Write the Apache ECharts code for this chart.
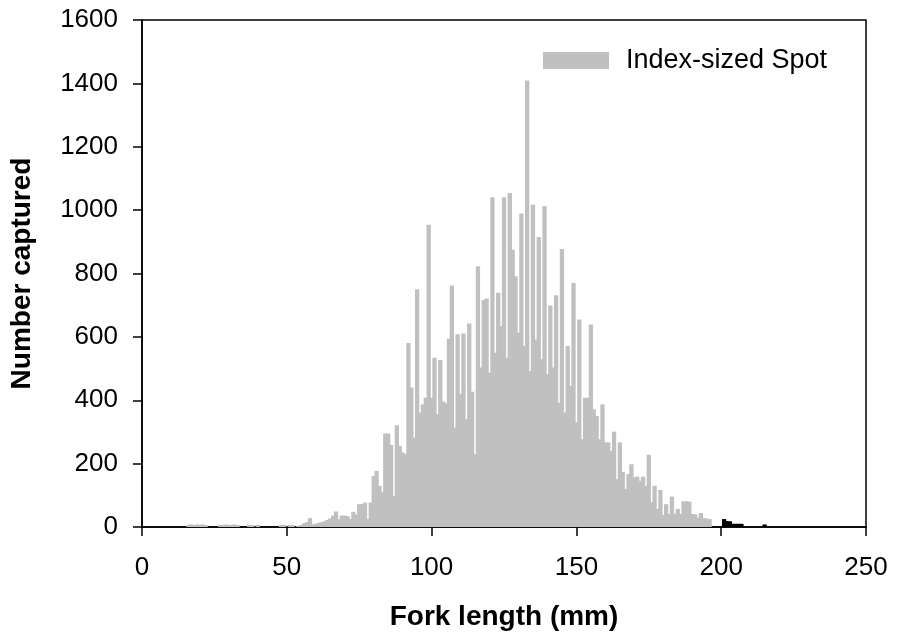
<!DOCTYPE html>
<html>
<head>
<meta charset="utf-8">
<script src="https://cdn.jsdelivr.net/npm/echarts@6/dist/echarts.min.js"></script>
<style>
  html, body { margin: 0; padding: 0; background: #fff; }
  #main { width: 898px; height: 636px; }
</style>
</head>
<body>
<div id="main"></div>
<script>
// fork length bins are 1 mm wide, grey series starts at 16 mm
var firstLength = 16;
var indexSized = [
  7, 8, 6, 8, 7, 8, 6, 0, 0, 0,            // 16-25
  0, 7, 6, 8, 6, 7, 8, 6, 0, 0,            // 26-35
  0, 7, 6, 0, 7, 0, 0, 0, 0, 0,            // 36-45
  0, 0, 6, 7, 0, 7, 6, 0, 3, 6,            // 46-55
  12, 15, 28, 8, 10, 13, 15, 18, 22, 27,   // 56-65
  36, 49, 25, 36, 36, 34, 25, 48, 39, 72,  // 66-75
  72, 77, 25, 77, 161, 177, 130, 110, 295, 295,   // 76-85
  259, 98, 321, 256, 235, 230, 581, 440, 282, 750, // 86-95
  361, 387, 408, 954, 408, 534, 356, 527, 396, 390, // 96-105
  594, 762, 314, 608, 419, 611, 340, 642, 427, 230, // 106-115
  823, 503, 716, 721, 487, 1041, 550, 739, 634, 1041, // 116-125
  534, 1054, 875, 791, 613, 989, 571, 1409, 492, 1017, // 126-135
  592, 915, 529, 1012, 482, 699, 503, 731, 392, 877,  // 136-145
  361, 571, 445, 770, 330, 655, 277, 408, 408, 639,   // 146-155
  371, 350, 277, 387, 267, 267, 240, 301, 151, 267,   // 156-165
  174, 120, 167, 198, 156, 159, 146, 159, 130, 228,   // 166-175
  78, 130, 57, 117, 38, 72, 41, 96, 41, 57,           // 176-185
  41, 81, 81, 80, 41, 40, 30, 44, 28, 27,             // 186-195
  25                                                  // 196
];
var otherLengths = [201, 202, 203, 204, 205, 206, 207, 215];
var otherCounts = [25, 19, 18, 10, 10, 10, 10, 8];

var greyData = indexSized.map(function (v, i) { return [firstLength + i, v]; });
var blackData = otherLengths.map(function (l, i) { return [l, otherCounts[i]]; });

var font = 'Liberation Sans, Arial, sans-serif';
var myChart = echarts.init(document.getElementById('main'));
myChart.setOption({
  animation: false,
  backgroundColor: '#fff',
  grid: {
    left: 142, right: 32, top: 20, bottom: 108,
    show: true, borderColor: '#000', borderWidth: 1.5
  },
  legend: {
    data: ['Index-sized Spot'],
    left: 543, top: 47, padding: 0,
    icon: 'rect', itemWidth: 66, itemHeight: 17,
    textStyle: { fontFamily: font, fontSize: 27, color: '#000', padding: [0, 0, 0, 12] }
  },
  xAxis: {
    type: 'value', min: 0, max: 250, interval: 50,
    name: 'Fork length (mm)', nameLocation: 'middle', nameGap: 76,
    nameTextStyle: { fontFamily: font, fontSize: 28, fontWeight: 'bold', color: '#000' },
    axisLine: { lineStyle: { color: '#000', width: 1.5 } },
    axisTick: { show: true, inside: false, length: 9, lineStyle: { color: '#000', width: 1.5 } },
    axisLabel: { fontFamily: font, fontSize: 26, color: '#000', margin: 28 },
    splitLine: { show: false }
  },
  yAxis: {
    type: 'value', min: 0, max: 1600, interval: 200,
    name: 'Number captured', nameLocation: 'middle', nameGap: 106,
    nameTextStyle: { fontFamily: font, fontSize: 28, fontWeight: 'bold', color: '#000' },
    axisLine: { show: true, lineStyle: { color: '#000', width: 1.5 } },
    axisTick: { show: true, inside: false, length: 9, lineStyle: { color: '#000', width: 1.5 } },
    axisLabel: {
      fontFamily: font, fontSize: 26, color: '#000', margin: 24,
      formatter: function (v) { return String(v); }
    },
    splitLine: { show: false }
  },
  series: [
    {
      name: 'Index-sized Spot',
      type: 'bar',
      barWidth: 4.3,
      barGap: '-100%',
      itemStyle: { color: '#c0c0c0' },
      data: greyData
    },
    {
      name: 'Other',
      type: 'bar',
      barWidth: 4.3,
      barGap: '-100%',
      itemStyle: { color: '#000' },
      data: blackData
    }
  ]
});
</script>
</body>
</html>
